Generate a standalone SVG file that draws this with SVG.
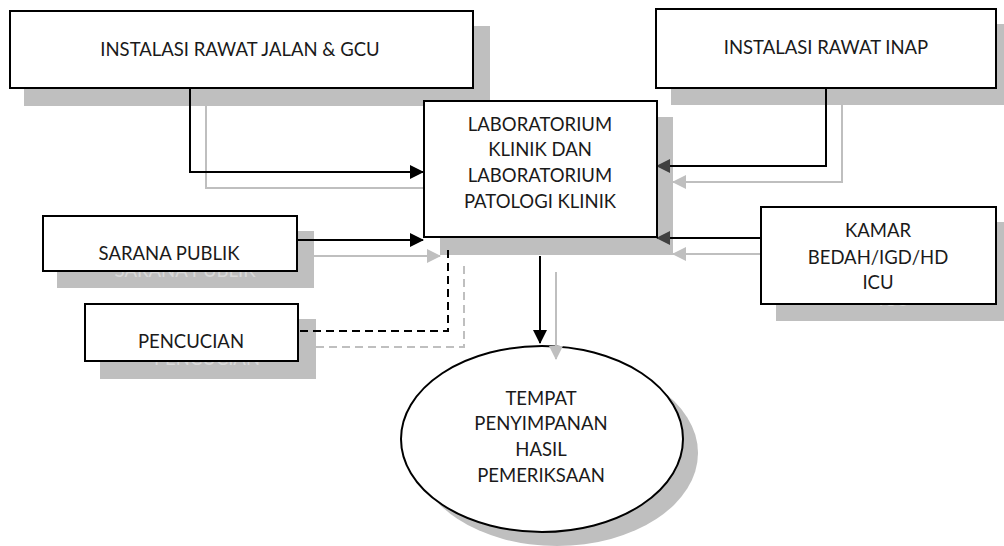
<svg xmlns="http://www.w3.org/2000/svg" width="1004" height="546" viewBox="0 0 1004 546">
  <style>
    .box { fill: #ffffff; stroke: #000000; stroke-width: 2; }
    .shadow { fill: #bfbfbf; stroke: none; }
    .label { font-family: Lato, "Liberation Sans", sans-serif; font-size: 18.5px; fill: #1a1a1a; text-anchor: middle; }
    .label.ghost { fill: #d9d9d9; }
    .line { fill: none; stroke: #000000; stroke-width: 2; }
    .line-shadow { fill: none; stroke: #bfbfbf; stroke-width: 2; }
    .dash { stroke-dasharray: 8 5; }
  </style>
  <defs>
    <marker id="arrow" viewBox="0 0 14 14" refX="13" refY="7" markerWidth="14" markerHeight="14" markerUnits="userSpaceOnUse" orient="auto">
      <path d="M0,0 L14,7 L0,14 Z" fill="#000000"/>
    </marker>
    <marker id="arrow-dark" viewBox="0 0 14 14" refX="13" refY="7" markerWidth="14" markerHeight="14" markerUnits="userSpaceOnUse" orient="auto">
      <path d="M0,0 L14,7 L0,14 Z" fill="#404040"/>
    </marker>
    <marker id="arrow-grey" viewBox="0 0 14 14" refX="13" refY="7" markerWidth="14" markerHeight="14" markerUnits="userSpaceOnUse" orient="auto">
      <path d="M0,0 L14,7 L0,14 Z" fill="#bfbfbf"/>
    </marker>
  </defs>

  <rect width="1004" height="546" fill="#ffffff"/>

  <!-- drop shadows of the nodes -->
  <g id="shadows">
    <rect class="shadow" x="24" y="26" width="466" height="80"/>
    <rect class="shadow" x="671" y="24" width="340" height="81"/>
    <rect class="shadow" x="440" y="117" width="233" height="138"/>
    <rect class="shadow" x="57" y="231" width="257" height="57"/>
    <text class="label ghost" x="185" y="277">SARANA PUBLIK</text>
    <rect class="shadow" x="100" y="319" width="216" height="60"/>
    <text class="label ghost" x="207" y="365">PENCUCIAN</text>
    <rect class="shadow" x="776" y="222" width="235" height="99"/>
    <text class="label ghost" x="894" y="306">ICU</text>
    <ellipse class="shadow" cx="557" cy="453" rx="141" ry="93"/>
  </g>

  <!-- storage ellipse sits under the incoming arrow -->
  <g id="node-tempat">
    <ellipse class="box" cx="542" cy="439" rx="141" ry="93"/>
    <text class="label" x="541" y="405">TEMPAT</text>
    <text class="label" x="541" y="430">PENYIMPANAN</text>
    <text class="label" x="541" y="456">HASIL</text>
    <text class="label" x="541" y="482">PEMERIKSAAN</text>
  </g>

  <g id="connectors">
    <!-- grey shadow copies -->
    <path class="line-shadow" d="M206,106 V188 H439" marker-end="url(#arrow-grey)"/>
    <path class="line-shadow" d="M842,105 V182 H673" marker-end="url(#arrow-grey)"/>
    <path class="line-shadow" d="M313,256 H440" marker-end="url(#arrow-grey)"/>
    <path class="line-shadow" d="M776,254 H673" marker-end="url(#arrow-grey)"/>
    <path class="line-shadow dash" d="M316,347 H464 V264"/>
    <path class="line-shadow" d="M556,272 V359" marker-end="url(#arrow-grey)"/>
    <!-- main connectors -->
    <path class="line" d="M190,88 V172 H423" marker-end="url(#arrow)"/>
    <path class="line" d="M826,88 V166 H657" marker-end="url(#arrow-dark)"/>
    <path class="line" d="M297,240 H423" marker-end="url(#arrow)"/>
    <path class="line" d="M761,238 H657" marker-end="url(#arrow-dark)"/>
    <path class="line dash" d="M300,331 H448 V248"/>
    <path class="line" d="M540,256 V343" marker-end="url(#arrow)"/>
  </g>

  <g id="node-rawat-jalan">
    <rect class="box" x="10" y="11" width="463" height="77"/>
    <text class="label" x="240" y="56">INSTALASI RAWAT JALAN &amp; GCU</text>
  </g>

  <g id="node-rawat-inap">
    <rect class="box" x="656" y="9" width="340" height="79"/>
    <text class="label" x="826" y="54">INSTALASI RAWAT INAP</text>
  </g>

  <g id="node-laboratorium">
    <rect class="box" x="424" y="101" width="233" height="136"/>
    <text class="label" x="540" y="131">LABORATORIUM</text>
    <text class="label" x="540" y="156">KLINIK DAN</text>
    <text class="label" x="540" y="182">LABORATORIUM</text>
    <text class="label" x="540" y="208">PATOLOGI KLINIK</text>
  </g>

  <g id="node-sarana-publik">
    <rect class="box" x="43" y="216" width="254" height="55"/>
    <text class="label" x="169" y="260">SARANA PUBLIK</text>
  </g>

  <g id="node-pencucian">
    <rect class="box" x="85" y="304" width="213" height="57"/>
    <text class="label" x="191" y="348">PENCUCIAN</text>
  </g>

  <g id="node-kamar">
    <rect class="box" x="761" y="207" width="235" height="97"/>
    <text class="label" x="878" y="237">KAMAR</text>
    <text class="label" x="878" y="264">BEDAH/IGD/HD</text>
    <text class="label" x="878" y="289">ICU</text>
  </g>
</svg>
